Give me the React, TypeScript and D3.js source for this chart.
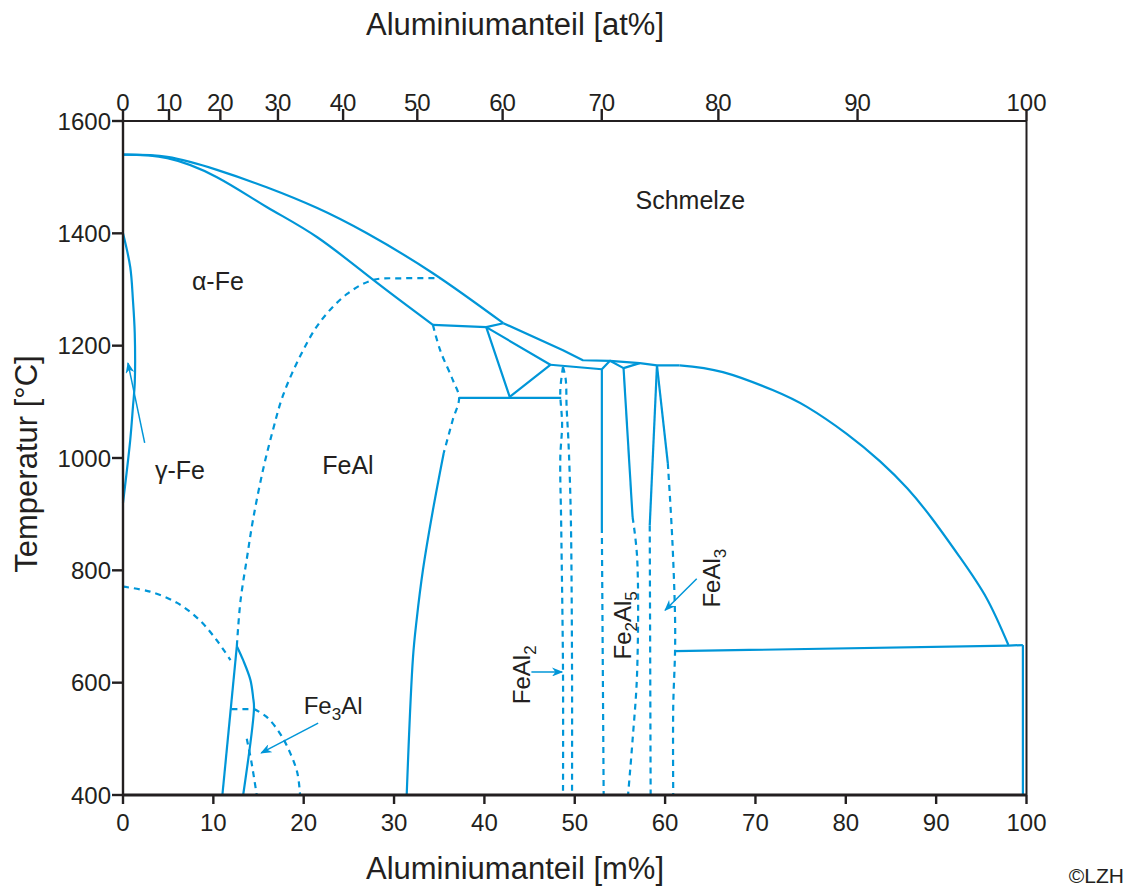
import React from "react"
import * as d3 from "d3"

// Fe-Al Zustandsdiagramm, Koordinaten in [m% Al, °C]
const massTicks = [0, 10, 20, 30, 40, 50, 60, 70, 80, 90, 100]
const atomTicks = [0, 10, 20, 30, 40, 50, 60, 70, 80, 90, 100]
const tempTicks = [400, 600, 800, 1000, 1200, 1400, 1600]

const FE = 55.85
const AL = 26.98
const atToWt = (a: number) => (a * AL) / (a * AL + (100 - a) * FE) * 100

const liquidusFe = [[0, 1540], [4.9, 1536], [10.4, 1513], [15.9, 1482], [21.5, 1445], [27, 1400], [34.3, 1329], [42.1, 1240]]
const liquidusMid = [[42.1, 1240], [48.7, 1192], [50.9, 1174], [53.9, 1173], [57.2, 1169], [59.1, 1165], [61.6, 1165]]
const liquidusAl = [[61.6, 1165], [66.4, 1153], [71.9, 1121], [75.7, 1091], [80.1, 1043], [83.8, 994], [86.8, 946], [89.6, 891], [92.6, 824], [95.6, 750], [98, 667]]
const solidus = [[0, 1540], [4.9, 1534], [10.4, 1500], [15.9, 1447], [21.5, 1393], [27.7, 1317], [34.3, 1237]]
const peritectic1232 = [[34.3, 1237], [40.2, 1233], [42.1, 1240]]
const triangle = [[40.2, 1233], [42.8, 1109], [47.3, 1166], [40.2, 1233]]
const eutectoid1102 = [[37.2, 1107], [48.5, 1107]]
const feal2Line = [[47.3, 1166], [53.0, 1158], [53.9, 1173], [55.4, 1160], [57.2, 1169]]
const fe2al5Left = [[53.0, 1158], [53.0, 877]]
const fe2al5LeftDash = [[53.0, 877], [53.2, 400]]
const fe2al5Right = [[55.4, 1160], [56.4, 895]]
const fe2al5RightDash = [[56.4, 895], [56.9, 824], [56.9, 617], [56.4, 498], [55.9, 400]]
const feal3Left = [[59.1, 1165], [58.3, 880]]
const feal3LeftDash = [[58.3, 880], [58.4, 400]]
const feal3Right = [[59.1, 1165], [60.3, 991]]
const feal3RightDash = [[60.3, 991], [60.8, 854], [61.1, 717], [61.1, 655], [60.9, 557], [60.9, 400]]
const feal2DashL = [[48.7, 1162], [48.4, 1120], [48.6, 1060], [48.4, 1000], [48.5, 880], [48.7, 620], [48.7, 400]]
const feal2DashR = [[48.7, 1162], [49.0, 1140], [49.1, 1090], [49.3, 1030], [49.5, 940], [49.6, 860], [49.7, 620], [49.7, 400]]
const eutectic655 = [[61.1, 656], [98.0, 666], [99.6, 667]]
const alSolvus = [[99.6, 667], [99.6, 400]]
const fealDash = [[34.3, 1237], [35.1, 1192], [36.5, 1139], [37.2, 1107], [36.5, 1068], [35.5, 1009]]
const fealSolid = [[35.5, 1009], [34.3, 907], [33.2, 801], [32.5, 712], [32.1, 646], [31.4, 400]]
const orderDome = [[12.6, 665], [13.0, 745], [13.7, 820], [14.4, 891], [15.5, 979], [16.6, 1050], [17.7, 1111], [19.6, 1181], [21.8, 1242], [24.8, 1292], [27.7, 1317], [31, 1320], [35.1, 1320]]
const curieLeft = [[0, 771], [3, 762], [6, 742], [8.5, 711], [10.4, 675], [11.9, 640]]
const curieRight = [[14.5, 553], [15.9, 539], [17.4, 509], [18.5, 475], [19.3, 439], [19.6, 400]]
const fe3alDash552 = [[12.0, 553], [14.5, 553]]
const fe3alLeft = [[11.0, 400], [12.6, 665]]
const fe3alRight = [[12.6, 665], [13.3, 640], [14.1, 605], [14.4, 574], [14.5, 555], [13.3, 400]]
const fe3alDashLow = [[13.7, 500], [14.2, 460], [14.8, 400]]
const gammaLoop = [[0, 1400], [0.8, 1340], [1.1, 1281], [1.3, 1222], [1.3, 1133], [1.1, 1091], [0.8, 1032], [0, 920]]

const arrows = [
  { from: [2.4, 1027], to: [0.55, 1169] },
  { from: [21.6, 528], to: [15.3, 475] },
  { from: [45.2, 619], to: [48.6, 619] },
  { from: [63.5, 785], to: [60.0, 729] },
]

const blue = "#0096d8"
const ink = "#231f20"
const font = "'Liberation Sans', Arial, sans-serif"

const x = d3.scaleLinear().domain([0, 100]).range([123, 1026.5])
const y = d3.scaleLinear().domain([400, 1600]).range([795, 121])

const straight = d3.line<number[]>().x(d => x(d[0])).y(d => y(d[1]))
const smooth = d3.line<number[]>().x(d => x(d[0])).y(d => y(d[1])).curve(d3.curveCatmullRom.alpha(0.5))
const natural = d3.line<number[]>().x(d => x(d[0])).y(d => y(d[1])).curve(d3.curveNatural)

const naturalCurves = [liquidusFe, liquidusAl, solidus]
const solidCurves = [fealSolid, fe3alRight, gammaLoop]
const solidLines = [liquidusMid, peritectic1232, triangle, eutectoid1102, feal2Line, fe2al5Left, fe2al5Right, feal3Left, feal3Right, eutectic655, alSolvus, fe3alLeft]
const dashedCurves = [fe2al5RightDash, feal3RightDash, feal2DashL, feal2DashR, fealDash, orderDome, curieLeft, curieRight, fe3alDashLow]
const dashedLines = [fe2al5LeftDash, feal3LeftDash, fe3alDash552]

export default function App() {
  return (
    <svg width={1132} height={888} style={{ position: "absolute", left: 0, top: 0, background: "#fff" }}
      fontFamily={font}>
      <defs>
        <marker id="arr" viewBox="0 0 10 8" refX="9" refY="4" markerWidth="12" markerHeight="9"
          markerUnits="userSpaceOnUse" orient="auto">
          <path d="M0,0 L10,4 L0,8 L3,4 z" fill={blue} />
        </marker>
      </defs>

      <g fill="none" stroke={blue} strokeWidth={2.2} strokeLinejoin="round">
        {naturalCurves.map((d, i) => <path key={"nc" + i} d={natural(d) || ""} />)}
        {solidCurves.map((d, i) => <path key={"sc" + i} d={smooth(d) || ""} />)}
        {solidLines.map((d, i) => <path key={"sl" + i} d={straight(d) || ""} />)}
        {dashedCurves.map((d, i) => <path key={"dc" + i} d={smooth(d) || ""} strokeDasharray="6,5" />)}
        {dashedLines.map((d, i) => <path key={"dl" + i} d={straight(d) || ""} strokeDasharray="6,5" />)}
        {arrows.map((a, i) => (
          <line key={"a" + i} x1={x(a.from[0])} y1={y(a.from[1])} x2={x(a.to[0])} y2={y(a.to[1])}
            strokeWidth={1.5} markerEnd="url(#arr)" />
        ))}
      </g>

      {/* Rahmen */}
      <g stroke={ink} fill="none">
        <line x1={x(0)} x2={x(100)} y1={y(1600)} y2={y(1600)} strokeWidth={2.2} />
        <line x1={x(0)} x2={x(100)} y1={y(400)} y2={y(400)} strokeWidth={3} />
        <line x1={x(0)} x2={x(0)} y1={y(1600)} y2={y(400)} strokeWidth={2.4} />
        <line x1={x(100)} x2={x(100)} y1={y(1600)} y2={y(400)} strokeWidth={2} />
        {massTicks.map(t => <line key={"mt" + t} x1={x(t)} x2={x(t)} y1={y(400)} y2={y(400) + 9} strokeWidth={2.4} />)}
        {atomTicks.map(t => <line key={"at" + t} x1={x(atToWt(t))} x2={x(atToWt(t))} y1={y(1600)} y2={y(1600) - 12} strokeWidth={2.4} />)}
        {tempTicks.map(t => <line key={"tt" + t} x1={x(0) - 11} x2={x(0)} y1={y(t)} y2={y(t)} strokeWidth={2.4} />)}
      </g>

      <g fill={ink} fontSize={24}>
        {massTicks.map(t => <text key={"ml" + t} x={x(t)} y={831} textAnchor="middle">{t}</text>)}
        {atomTicks.map(t => <text key={"al" + t} x={x(atToWt(t))} y={111} textAnchor="middle">{t}</text>)}
        {tempTicks.map(t => <text key={"tl" + t} x={x(0) - 12} y={y(t)} dy="0.36em" textAnchor="end">{t}</text>)}
      </g>

      <g fill={ink} fontSize={31}>
        <text x={515} y={35} textAnchor="middle">Aluminiumanteil [at%]</text>
        <text x={515} y={879} textAnchor="middle">Aluminiumanteil [m%]</text>
        <text transform="translate(37,464) rotate(-90)" textAnchor="middle">Temperatur [°C]</text>
      </g>
      <text x={1124} y={883} textAnchor="end" fontSize={21} fill={ink}>©LZH</text>

      <g fill={ink} fontSize={25}>
        <text x={x(62.8)} y={y(1459)} dy="0.36em" textAnchor="middle">Schmelze</text>
        <text x={x(10.5)} y={y(1315)} dy="0.36em" textAnchor="middle">α-Fe</text>
        <text x={x(6.3)} y={y(979)} dy="0.36em" textAnchor="middle">γ-Fe</text>
        <text x={x(24.9)} y={y(987)} dy="0.36em" textAnchor="middle">FeAl</text>
      </g>
      <g fill={ink} fontSize={24}>
        <text x={x(20.0)} y={y(544)}>Fe<tspan fontSize={17} dy={6}>3</tspan><tspan dy={-6}>Al</tspan></text>
        <text transform={`translate(${x(45.1)},${y(614)}) rotate(-90)`} textAnchor="middle">FeAl<tspan fontSize={17} dy={6}>2</tspan></text>
        <text transform={`translate(${x(56.2)},${y(702)}) rotate(-90)`} textAnchor="middle">Fe<tspan fontSize={17} dy={6}>2</tspan><tspan dy={-6}>Al</tspan><tspan fontSize={17} dy={6}>5</tspan></text>
        <text transform={`translate(${x(66.1)},${y(786)}) rotate(-90)`} textAnchor="middle">FeAl<tspan fontSize={17} dy={6}>3</tspan></text>
      </g>
    </svg>
  )
}
